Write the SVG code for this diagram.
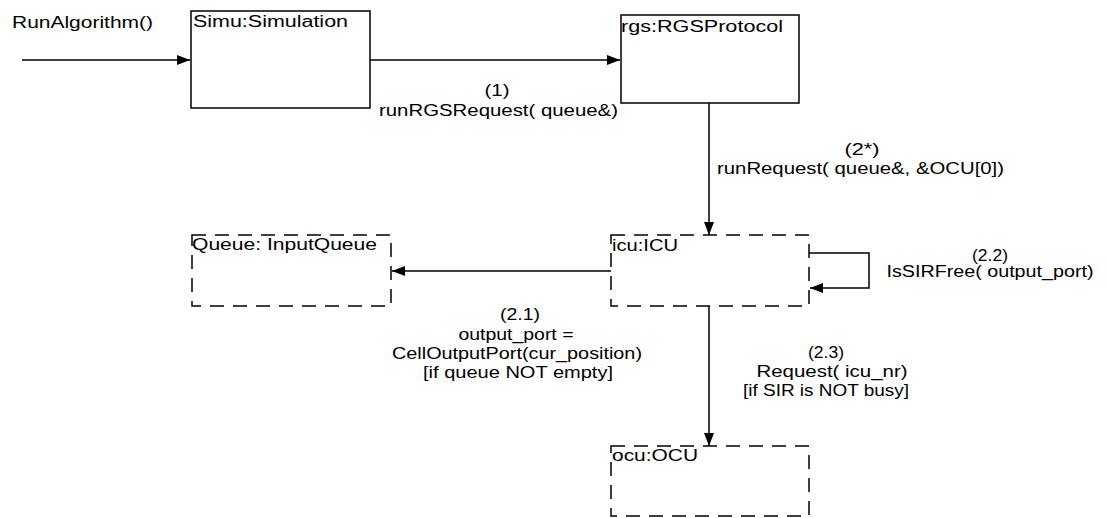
<svg xmlns="http://www.w3.org/2000/svg" width="1107" height="518" viewBox="0 0 1107 518">
<style>
text{font-family:"Liberation Sans",Arial,sans-serif;font-size:16px;fill:#000}
.m{text-anchor:middle}
.box{fill:#fff;stroke:#000;stroke-width:1.5}
.dash{fill:#fff;stroke:#000;stroke-width:1.5;stroke-dasharray:14 9}
.ln{fill:none;stroke:#000;stroke-width:1.5}
</style>
<defs>
<marker id="ah" viewBox="0 0 13 10" refX="13" refY="5" markerWidth="13" markerHeight="10" markerUnits="userSpaceOnUse" orient="auto">
<path d="M0,0 L13,5 L0,10 Z" fill="#000"/>
</marker>
</defs>
<rect width="1107" height="518" fill="#fff"/>
<g id="simu">
<rect class="box" x="191" y="11" width="179" height="97"/>
<text x="193" y="27" textLength="155" lengthAdjust="spacingAndGlyphs">Simu:Simulation</text>
</g>
<g id="rgs">
<rect class="box" x="621" y="15" width="178" height="88"/>
<text x="621" y="32" textLength="162" lengthAdjust="spacingAndGlyphs">rgs:RGSProtocol</text>
</g>
<g id="queue">
<rect class="dash" x="192" y="235" width="199" height="71"/>
<text x="192" y="250" textLength="185" lengthAdjust="spacingAndGlyphs">Queue: InputQueue</text>
</g>
<g id="icu">
<rect class="dash" x="611" y="235" width="198" height="71"/>
<text x="612" y="251" textLength="66" lengthAdjust="spacingAndGlyphs">icu:ICU</text>
</g>
<g id="ocu">
<rect class="dash" x="611" y="446" width="198" height="70"/>
<text x="612" y="461" textLength="86" lengthAdjust="spacingAndGlyphs">ocu:OCU</text>
</g>
<g id="connectors">
<line class="ln" x1="22" y1="60" x2="190" y2="60" marker-end="url(#ah)"/>
<line class="ln" x1="370" y1="60" x2="620" y2="60" marker-end="url(#ah)"/>
<line class="ln" x1="709" y1="103" x2="709" y2="235" marker-end="url(#ah)"/>
<line class="ln" x1="611" y1="271" x2="392" y2="271" marker-end="url(#ah)"/>
<polyline class="ln" points="809,253 869,253 869,288 810,288" marker-end="url(#ah)"/>
<line class="ln" x1="709" y1="306" x2="709" y2="446" marker-end="url(#ah)"/>
</g>
<g id="labels">
<text x="12" y="28" textLength="141" lengthAdjust="spacingAndGlyphs">RunAlgorithm()</text>
<text class="m" x="497" y="96" textLength="25" lengthAdjust="spacingAndGlyphs">(1)</text>
<text class="m" x="498.5" y="116" textLength="239" lengthAdjust="spacingAndGlyphs">runRGSRequest( queue&amp;)</text>
<text class="m" x="862" y="155" textLength="35" lengthAdjust="spacingAndGlyphs">(2*)</text>
<text class="m" x="860.5" y="174" textLength="287" lengthAdjust="spacingAndGlyphs">runRequest( queue&amp;, &amp;OCU[0])</text>
<text class="m" x="990" y="261" textLength="36" lengthAdjust="spacingAndGlyphs">(2.2)</text>
<text class="m" x="990" y="277" textLength="207" lengthAdjust="spacingAndGlyphs">IsSIRFree( output_port)</text>
<text class="m" x="520" y="320" textLength="40" lengthAdjust="spacingAndGlyphs">(2.1)</text>
<text class="m" x="516" y="340" textLength="115" lengthAdjust="spacingAndGlyphs">output_port =</text>
<text x="392" y="359" textLength="250" lengthAdjust="spacingAndGlyphs">CellOutputPort(cur_position)</text>
<text x="423" y="378" textLength="190" lengthAdjust="spacingAndGlyphs">[if queue NOT empty]</text>
<text class="m" x="826" y="358" textLength="36" lengthAdjust="spacingAndGlyphs">(2.3)</text>
<text class="m" x="832" y="377" textLength="151" lengthAdjust="spacingAndGlyphs">Request( icu_nr)</text>
<text x="743" y="396" textLength="166" lengthAdjust="spacingAndGlyphs">[if SIR is NOT busy]</text>
</g>
</svg>
